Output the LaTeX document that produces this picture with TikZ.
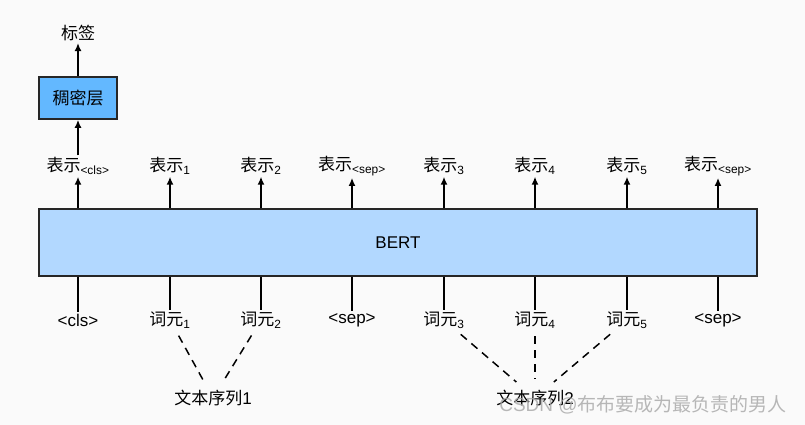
\documentclass[tikz,border=0pt]{standalone}
\usepackage{fontspec}
\setmainfont{Liberation Sans}
\newfontfamily\cjk{Noto Sans CJK SC}
\usetikzlibrary{positioning,arrows.meta}
\definecolor{bertblue}{RGB}{178,216,255}
\definecolor{denseblue}{RGB}{99,184,255}
\newcommand{\zh}[1]{{\cjk #1}}

\begin{document}
\begin{tikzpicture}[x=1pt,y=-1pt,>={Latex[length=8pt,width=7pt]},
   every node/.style={font=\fontsize{17}{20}\selectfont, inner sep=2pt},
   boxnode/.style={draw=black!85, line width=1.6pt},
   arr/.style={->, line width=1.6pt},
   tok/.style={line width=1.6pt},
   seqline/.style={line width=1.5pt, dash pattern=on 8pt off 6pt, shorten <=6pt, shorten >=9pt}]
   \fill [white!98!black] (0,0) rectangle (805,425);
   \useasboundingbox (0,0) rectangle (805,425);

   % BERT and dense layer
   \node[boxnode, fill=bertblue, minimum width=718, minimum height=67] (bert) at (398,242.5) {BERT};
   \node[boxnode, fill=denseblue, minimum width=78, minimum height=42] (dense) at (78,98) {\zh{稠密层}};
   \node (label) at (78,33) {\zh{标签}};

   % outputs
   \node (r0) at (78,166) {\zh{表示}\textsubscript{<cls>}};
   \node (r1) at (170,166) {\zh{表示}\textsubscript{1}};
   \node (r2) at (261,166) {\zh{表示}\textsubscript{2}};
   \node (r3) at (352,166) {\zh{表示}\textsubscript{<sep>}};
   \node (r4) at (444,166) {\zh{表示}\textsubscript{3}};
   \node (r5) at (535,166) {\zh{表示}\textsubscript{4}};
   \node (r6) at (627,166) {\zh{表示}\textsubscript{5}};
   \node (r7) at (718,166) {\zh{表示}\textsubscript{<sep>}};

   \draw[arr] (r0) -- (dense);
   \draw[arr] (dense) -- (label);
   \draw[arr] (bert.north -| r0) -- (r0);
   \draw[arr] (bert.north -| r1) -- (r1);
   \draw[arr] (bert.north -| r2) -- (r2);
   \draw[arr] (bert.north -| r3) -- (r3);
   \draw[arr] (bert.north -| r4) -- (r4);
   \draw[arr] (bert.north -| r5) -- (r5);
   \draw[arr] (bert.north -| r6) -- (r6);
   \draw[arr] (bert.north -| r7) -- (r7);

   % inputs
   \node (t0) at (78,320) {<cls>};
   \node (t1) at (170,320) {\zh{词元}\textsubscript{1}};
   \node (t2) at (261,320) {\zh{词元}\textsubscript{2}};
   \node (t3) at (352,320) {<sep>};
   \node (t4) at (444,320) {\zh{词元}\textsubscript{3}};
   \node (t5) at (535,320) {\zh{词元}\textsubscript{4}};
   \node (t6) at (627,320) {\zh{词元}\textsubscript{5}};
   \node (t7) at (718,320) {<sep>};

   \draw[tok] (bert.south -| t0) -- (t0);
   \draw[tok] (bert.south -| t1) -- (t1);
   \draw[tok] (bert.south -| t2) -- (t2);
   \draw[tok] (bert.south -| t3) -- (t3);
   \draw[tok] (bert.south -| t4) -- (t4);
   \draw[tok] (bert.south -| t5) -- (t5);
   \draw[tok] (bert.south -| t6) -- (t6);
   \draw[tok] (bert.south -| t7) -- (t7);

   % sequences
   \node (s1) at (213,398) {\zh{文本序列}1};
   \node (s2) at (535,398) {\zh{文本序列}2};
   \draw[seqline] (t1) -- (s1);
   \draw[seqline] (t2) -- (s1);
   \draw[seqline] (t4) -- (s2);
   \draw[seqline] (t5) -- (s2);
   \draw[seqline] (t6) -- (s2);

   \node[text=black!35, opacity=0.8, font=\fontsize{19}{22}\selectfont] (mark) at (643,405) {CSDN @\zh{布布要成为最负责的男人}};
\end{tikzpicture}
\end{document}
